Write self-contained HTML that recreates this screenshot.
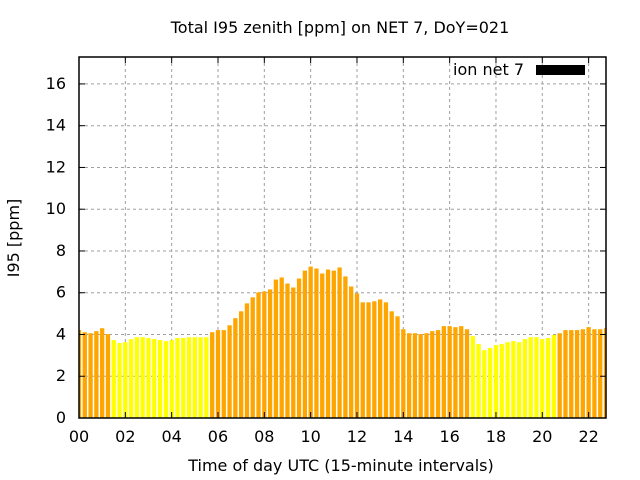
<!DOCTYPE html>
<html><head><meta charset="utf-8"><style>body{margin:0;background:#fff}svg{display:block}</style></head>
<body>
<svg id="chart" width="640" height="480" viewBox="0 0 640 480" font-family="DejaVu Sans, Liberation Sans, sans-serif" font-size="16">
<text x="340" y="33" text-anchor="middle">Total I95 zenith [ppm] on NET 7, DoY=021</text>
<g id="grid"></g><g id="bars"></g><g id="axes"></g>
<text x="341" y="471" text-anchor="middle">Time of day UTC (15-minute intervals)</text>
<text transform="translate(19,238) rotate(-90)" text-anchor="middle">I95 [ppm]</text>
<g>
<text x="524" y="75" text-anchor="end">ion net 7</text>
<rect x="536" y="65" width="49" height="10" fill="#000"/>
</g>
</svg>
<script>
const values=[4.21,4.11,4.06,4.16,4.30,4.02,3.73,3.59,3.63,3.78,3.87,3.87,3.83,3.78,3.73,3.68,3.73,3.83,3.83,3.87,3.87,3.87,3.87,4.11,4.21,4.21,4.44,4.78,5.11,5.49,5.78,6.02,6.06,6.16,6.63,6.73,6.44,6.25,6.68,7.06,7.25,7.16,6.92,7.11,7.06,7.21,6.78,6.30,5.97,5.54,5.54,5.59,5.68,5.54,5.11,4.87,4.25,4.06,4.06,4.02,4.06,4.16,4.21,4.40,4.40,4.35,4.40,4.25,3.92,3.54,3.25,3.35,3.49,3.54,3.63,3.68,3.63,3.78,3.87,3.87,3.78,3.83,3.98,4.06,4.21,4.21,4.21,4.25,4.35,4.25,4.25,4.30];
const yTicks=[0,2,4,6,8,10,12,14,16];
const xTickLabels=["00","02","04","06","08","10","12","14","16","18","20","22"];
const threshold=4;
const L=79,R=606,T=57,B=418,xMax=91,yMax=17.29;
const NS="http://www.w3.org/2000/svg";
const xs=i=>L+(R-L)*i/xMax, ys=v=>B-(B-T)*v/yMax;
function mk(tag,attrs,parent){const e=document.createElementNS(NS,tag);for(const k in attrs)e.setAttribute(k,attrs[k]);document.getElementById(parent).appendChild(e);return e;}
yTicks.forEach(v=>{const y=ys(v);
 if(v>0){const g=mk('line',{x1:L,x2:R,y1:y,y2:y,stroke:'#a0a0a0','stroke-dasharray':'3,3'},'grid');
 
 }
 const t=mk('text',{x:L-13,y:y+5,'text-anchor':'end'},'axes');t.textContent=v;
 
 
 mk('line',{x1:L,x2:L+6,y1:y,y2:y,stroke:'#000'},'axes');mk('line',{x1:R,x2:R-6,y1:y,y2:y,stroke:'#000'},'axes');});
xTickLabels.forEach((s,k)=>{const x=xs(k*8);
 if(k>0){const g=mk('line',{x1:x,x2:x,y1:T,y2:B,stroke:'#a0a0a0','stroke-dasharray':'3,3'},'grid');
 
 }
 const t=mk('text',{x:x,y:B+24,'text-anchor':'middle'},'axes');t.textContent=s;
 
 
 mk('line',{x1:x,x2:x,y1:B,y2:B-6,stroke:'#000'},'axes');mk('line',{x1:x,x2:x,y1:T,y2:T+6,stroke:'#000'},'axes');});
values.forEach((v,i)=>{const w=4.3,x=xs(i)-w/2,x0=Math.max(x,L),x1=Math.min(x+w,R);
 const r=mk('rect',{x:x0,y:ys(v),width:x1-x0,height:B-ys(v),fill:v<threshold?'#ffff00':'#ffa500'},'bars');
 
 });
const f=mk('rect',{x:L,y:T,width:R-L,height:B-T,fill:'none',stroke:'#000','stroke-width':1.5},'axes');


</script>
</body></html>
